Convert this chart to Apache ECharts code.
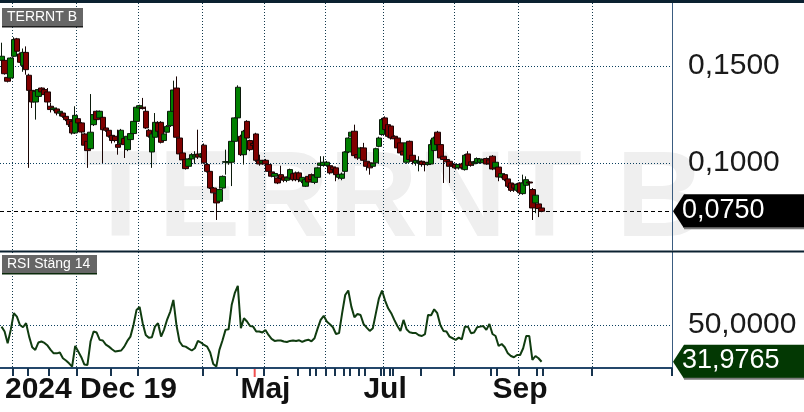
<!DOCTYPE html>
<html><head><meta charset="utf-8">
<script src="https://cdn.jsdelivr.net/npm/echarts@6/dist/echarts.min.js"></script>
<style>html,body{margin:0;padding:0;background:#fff}#c{width:804px;height:412px}</style>
</head><body><div id="c"></div>
<script>
// ---- data ----
const ticker = 'TERRNT B';
const rsiTitle = 'RSI Stäng 14';
const firstLabel = '2024 Dec 19';
const slotCount = 219;              // trading-day slots on the axis (incl. future)
const monthStarts = [4, 25, 45, 66, 86, 106, 125, 148, 169, 193];
const eventTicks = [9, 16, 36, 77, 97, 101, 103, 109, 112, 114, 117, 119, 124, 127, 128, 137, 160, 162, 175, 177];
const redTicks = [83];
const monthLabelSlots = [86, 125, 169];
const monthLabelTexts = ['Maj', 'Jul', 'Sep'];
const priceTicks = [0.10, 0.15];
const rsiTicks = [50];
// [open, close, low, high]
const ohlc = [
[0.1529,0.1550,0.1520,0.1620],[0.1529,0.1460,0.1455,0.1535],[0.1441,0.1421,0.1415,0.1445],[0.1438,0.1541,0.1430,0.1545],
[0.1550,0.1636,0.1545,0.1648],[0.1640,0.1576,0.1570,0.1645],[0.1562,0.1519,0.1515,0.1570],[0.1503,0.1570,0.1470,0.1590],
[0.1570,0.1481,0.1455,0.1601],[0.1452,0.1374,0.0974,0.1460],[0.1374,0.1314,0.1283,0.1380],[0.1314,0.1369,0.1223,0.1378],
[0.1343,0.1378,0.1320,0.1386],[0.1386,0.1366,0.1350,0.1390],[0.1378,0.1352,0.1345,0.1385],[0.1366,0.1314,0.1287,0.1386],
[0.1292,0.1275,0.1260,0.1310],[0.1275,0.1283,0.1266,0.1290],[0.1278,0.1257,0.1245,0.1285],[0.1257,0.1266,0.1240,0.1270],
[0.1257,0.1240,0.1232,0.1262],[0.1240,0.1223,0.1215,0.1245],[0.1223,0.1197,0.1185,0.1230],[0.1214,0.1154,0.1146,0.1225],
[0.1154,0.1245,0.1149,0.1292],
[0.1228,0.1206,0.1200,0.1235],[0.1206,0.1159,0.1150,0.1210],[0.1149,0.1091,0.1085,0.1155],[0.1111,0.1063,0.0974,0.1115],
[0.1073,0.1158,0.1070,0.1355],[0.1197,0.1249,0.1190,0.1255],[0.1266,0.1223,0.1215,0.1270],[0.1232,0.1266,0.1228,0.1270],
[0.1235,0.1171,0.0999,0.1240],[0.1180,0.1168,0.1160,0.1185],[0.1168,0.1137,0.1130,0.1172],[0.1142,0.1115,0.1100,0.1150],
[0.1137,0.1115,0.1105,0.1142],[0.1094,0.1080,0.1042,0.1171],[0.1099,0.1168,0.1094,0.1175],[0.1125,0.1094,0.1025,0.1130],
[0.1068,0.1137,0.1060,0.1145],[0.1120,0.1151,0.1115,0.1155],[0.1151,0.1214,0.1145,0.1220],[0.1214,0.1287,0.1210,0.1290],
[0.1283,0.1295,0.1278,0.1300],[0.1287,0.1280,0.1275,0.1335],[0.1266,0.1180,0.1175,0.1290],[0.1168,0.1137,0.1130,0.1175],
[0.1056,0.1149,0.0974,0.1155],[0.1132,0.1209,0.1125,0.1257],[0.1206,0.1163,0.1155,0.1215],[0.1209,0.1106,0.1100,0.1215],
[0.1115,0.1149,0.1108,0.1155],[0.1158,0.1188,0.1150,0.1195],[0.1192,0.1266,0.1185,0.1270],[0.1266,0.1376,0.1260,0.1424],
[0.1386,0.1132,0.1125,0.1446],[0.1128,0.1046,0.1040,0.1135],[0.1051,0.1015,0.0990,0.1055],[0.1018,0.0970,0.0965,0.1022],
[0.0982,0.1020,0.0975,0.1025],[0.1020,0.1042,0.1015,0.1050],[0.1030,0.1040,0.0995,0.1060],[0.1045,0.1030,0.1020,0.1171],
[0.1035,0.1045,0.1025,0.1050],
[0.1091,0.1000,0.0995,0.1100],[0.0991,0.0956,0.0950,0.1005],[0.0956,0.0870,0.0865,0.0960],[0.0870,0.0845,0.0840,0.0875],
[0.0841,0.0793,0.0705,0.0850],[0.0802,0.0862,0.0795,0.0868],[0.0870,0.0930,0.0865,0.0935],[0.1003,0.1006,0.0939,0.1068],
[0.1000,0.1006,0.0990,0.1015],[0.1003,0.1111,0.0880,0.1115],[0.1111,0.1232,0.1105,0.1235],[0.1232,0.1390,0.1225,0.1400],
[0.1137,0.1042,0.1035,0.1145],[0.1042,0.1163,0.0991,0.1170],[0.1214,0.1128,0.1120,0.1220],[0.1115,0.1068,0.1060,0.1120],
[0.1100,0.1090,0.1080,0.1110],[0.1149,0.1013,0.1005,0.1155],[0.1013,0.0994,0.0985,0.1042],[0.0999,0.1010,0.0990,0.1015],
[0.1013,0.0994,0.0985,0.1020],[0.0991,0.0956,0.0950,0.0995],[0.0953,0.0931,0.0925,0.0960],[0.0931,0.0945,0.0920,0.0950],
[0.0922,0.0896,0.0890,0.0930],[0.0939,0.0919,0.0905,0.0985],[0.0927,0.0910,0.0900,0.0935],[0.0910,0.0922,0.0900,0.0930],
[0.0922,0.0965,0.0915,0.0970],[0.0944,0.0913,0.0905,0.0950],[0.0948,0.0913,0.0905,0.0955],[0.0948,0.0914,0.0900,0.0955],
[0.0905,0.0925,0.0895,0.0930],[0.0879,0.0913,0.0875,0.0918],[0.0930,0.0901,0.0895,0.0935],[0.0939,0.0913,0.0905,0.0945],
[0.0899,0.0934,0.0890,0.0940],[0.0925,0.0974,0.0920,0.0980],[0.0987,0.0999,0.0974,0.1034],[0.0987,0.1003,0.0980,0.1034],
[0.0987,0.1003,0.0980,0.1010],[0.0985,0.0948,0.0940,0.0990],[0.0979,0.0965,0.0955,0.0985],[0.0974,0.0939,0.0905,0.0980],
[0.0925,0.0940,0.0915,0.0945],[0.0920,0.0942,0.0910,0.0950],[0.0956,0.1056,0.0939,0.1060],[0.1056,0.1128,0.1050,0.1135],
[0.1137,0.1158,0.1130,0.1165],[0.1163,0.1037,0.1030,0.1197],[0.1042,0.1025,0.1015,0.1048],[0.1025,0.1077,0.1020,0.1082],
[0.1077,0.1013,0.1005,0.1103],[0.1008,0.0982,0.0960,0.1012],[0.1000,0.0974,0.0939,0.1005],[0.0982,0.0996,0.0975,0.1000],
[0.1000,0.1073,0.0995,0.1078],[0.1085,0.1128,0.1080,0.1135],[0.1146,0.1223,0.1140,0.1232],
[0.1232,0.1172,0.1165,0.1240],[0.1197,0.1137,0.1130,0.1205],[0.1190,0.1128,0.1120,0.1195],[0.1137,0.1124,0.1115,0.1142],
[0.1128,0.1077,0.1070,0.1133],[0.1103,0.1051,0.1040,0.1108],[0.1060,0.1040,0.1010,0.1065],[0.1003,0.1103,0.0995,0.1108],
[0.1111,0.1017,0.1010,0.1115],[0.1039,0.1008,0.0991,0.1045],[0.0999,0.1013,0.0985,0.1020],[0.1003,0.1008,0.0956,0.1034],
[0.1008,0.0991,0.0980,0.1012],[0.1003,0.0991,0.0956,0.1008],[0.0991,0.1000,0.0985,0.1005],[0.0994,0.1094,0.0990,0.1120],
[0.1063,0.1128,0.1055,0.1135],[0.1158,0.1094,0.1090,0.1165],[0.1094,0.1025,0.1020,0.1100],[0.1034,0.1017,0.0896,0.1077],
[0.1017,0.1005,0.0995,0.1022],[0.1008,0.0982,0.0896,0.1012],[0.0994,0.0985,0.0975,0.1000],
[0.0991,0.0974,0.0965,0.0995],[0.0974,0.0991,0.0965,0.0995],[0.0994,0.0974,0.0965,0.1000],[0.0965,0.1039,0.0960,0.1045],
[0.1046,0.0987,0.0980,0.1060],[0.1005,0.0987,0.0980,0.1010],[0.0995,0.1003,0.0985,0.1010],[0.1000,0.1022,0.0995,0.1028],
[0.1003,0.1020,0.0995,0.1025],[0.1000,0.1015,0.0995,0.1020],[0.1022,0.0994,0.0990,0.1028],[0.1015,0.0995,0.0990,0.1020],
[0.1034,0.0968,0.0962,0.1040],[0.0974,0.1003,0.0968,0.1008],[0.0978,0.0927,0.0905,0.0982],[0.0927,0.0944,0.0920,0.0948],
[0.0939,0.0913,0.0905,0.0945],[0.0917,0.0879,0.0870,0.0922],[0.0896,0.0858,0.0850,0.0900],[0.0890,0.0870,0.0850,0.0895],
[0.0858,0.0888,0.0850,0.0895],
[0.0896,0.0845,0.0835,0.0900],[0.0841,0.0896,0.0835,0.0939],[0.0884,0.0913,0.0880,0.0930],[0.0901,0.0896,0.0850,0.0905],
[0.0862,0.0767,0.0705,0.0870],[0.0793,0.0833,0.0740,0.0840],[0.0788,0.0764,0.0720,0.0795],[0.0767,0.0750,0.0745,0.0770]
];
const rsi = [
49.2,46.8,41.1,47.6,55.8,54.1,50.0,48.9,50.9,44.3,
39.1,37.8,41.4,41.9,41.2,39.9,37.8,36.1,36.1,36.5,
33.7,32.6,31.2,29.6,39.7,37.0,34.2,30.6,30.4,41.9,
46.8,46.3,42.7,42.4,40.4,39.4,38.1,37.0,37.3,37.5,
39.4,42.2,44.3,50.0,57.4,58.9,50.9,45.1,43.7,44.0,
49.2,50.9,44.3,47.9,52.8,56.6,62.3,50.0,41.9,39.7,
39.4,38.4,37.5,38.6,42.2,41.4,40.2,39.4,36.5,30.9,
29.6,37.8,42.4,47.6,47.9,59.8,65.6,69.2,48.4,53.3,
51.7,49.5,49.2,46.8,46.8,46.3,47.6,45.1,43.2,42.2,
42.4,42.4,41.9,41.7,42.2,42.4,42.2,42.5,41.7,42.4,
42.8,42.0,43.5,48.2,52.5,54.5,51.7,50.4,48.9,45.6,
46.0,55.8,64.7,66.9,59.0,53.8,55.4,54.9,50.4,48.7,
47.1,48.4,55.8,63.1,66.9,62.0,58.2,55.8,52.5,49.5,
47.1,52.5,47.9,46.4,46.1,46.1,45.0,44.6,45.5,54.9,
54.8,57.7,55.8,50.0,47.1,46.8,44.3,43.5,42.7,43.8,
43.0,49.2,49.2,46.0,46.3,48.9,49.2,49.5,47.6,50.5,
45.6,44.6,39.7,40.7,39.1,36.1,34.8,34.2,35.3,35.3,
38.6,44.6,44.6,32.9,34.8,33.7,31.9765
];

// ---- chart ----
const FONT = '"Liberation Sans", Arial, sans-serif';
const categories = Array.from({length: slotCount}, (_, i) => String(i));
const monthSet = new Set(monthStarts);
const tickSet = new Set(monthStarts.concat(eventTicks));
const labelMap = {};
monthLabelSlots.forEach((s, k) => { labelMap[s] = monthLabelTexts[k]; });
const fmt = (v, d) => v.toFixed(d).replace('.', ',');
const lastClose = ohlc[ohlc.length - 1][1];
const lastRsi = rsi[rsi.length - 1];

const chart = echarts.init(document.getElementById('c'), null, {renderer: 'canvas'});
const dotted = {color: '#12394d', width: 1, type: [1, 2]};

const option = {
  animation: false,
  backgroundColor: '#ffffff',
  grid: [
    {left: 0, top: 3, width: 672, height: 247, outerBoundsMode: 'none'},
    {left: 0, top: 252, width: 672, height: 116, outerBoundsMode: 'none'}
  ],
  xAxis: [
    {type: 'category', gridIndex: 0, data: categories, boundaryGap: true,
     axisLine: {show: false}, axisTick: {show: false}, axisLabel: {show: false},
     splitLine: {show: true, interval: (i) => monthSet.has(i), lineStyle: dotted}},
    {type: 'category', gridIndex: 1, data: categories, boundaryGap: true, position: 'bottom',
     axisLine: {show: true, lineStyle: {color: '#24476b', width: 2}},
     axisTick: {show: true, interval: (i) => tickSet.has(i), length: 8, lineStyle: {color: '#17344f', width: 2}},
     axisLabel: {show: true, interval: (i) => labelMap[i] !== undefined, formatter: (v, i) => labelMap[i] || '',
       margin: 7, fontSize: 30, fontWeight: 'bold', color: '#111', fontFamily: FONT},
     splitLine: {show: true, interval: (i) => monthSet.has(i), lineStyle: dotted}}
  ],
  yAxis: [
    {type: 'value', gridIndex: 0, min: 0.055, max: 0.1825, position: 'right', scale: true,
     axisLine: {show: true, lineStyle: {color: '#3a5c80', width: 1}}, axisTick: {show: false},
     axisLabel: {show: false}, splitLine: {show: false}},
    {type: 'value', gridIndex: 1, min: 28.92, max: 85.78, position: 'right', scale: true,
     axisLine: {show: true, lineStyle: {color: '#3a5c80', width: 1}}, axisTick: {show: false},
     axisLabel: {show: false}, splitLine: {show: false}}
  ],
  series: [
    {type: 'candlestick', xAxisIndex: 0, yAxisIndex: 0, data: ohlc, barWidth: 6, clip: false,
     itemStyle: {color: '#008000', color0: '#800000', borderColor: '#0b1a0b', borderColor0: '#1a0404', borderWidth: 1},
     markLine: {silent: true, symbol: 'none', z: 1, animation: false, precision: 6,
       data: priceTicks.map(v => ({yAxis: v, lineStyle: {color: '#0b3f5f', width: 1, type: [1, 2]},
               label: {show: true, position: 'end', distance: 16, formatter: fmt(v, 4), fontSize: 30, color: '#1a1a1a', fontFamily: FONT}}))
         .concat([{yAxis: lastClose, lineStyle: {color: '#000', width: 1, type: [4, 3]}, label: {show: false}}])}},
    {type: 'line', xAxisIndex: 1, yAxisIndex: 1, data: rsi, symbol: 'none', clip: false,
     lineStyle: {color: '#103c10', width: 2},
     markLine: {silent: true, symbol: 'none', z: 1, animation: false, precision: 6,
       data: rsiTicks.map(v => ({yAxis: v, lineStyle: {color: '#0b3f5f', width: 1, type: [1, 2]},
               label: {show: true, position: 'end', distance: 16, formatter: fmt(v, 4), fontSize: 30, color: '#1a1a1a', fontFamily: FONT}}))}}
  ]
};
chart.setOption(option);

const yP = chart.convertToPixel({yAxisIndex: 0}, lastClose);
const yR = chart.convertToPixel({yAxisIndex: 1}, lastRsi);
const axisY = chart.convertToPixel({yAxisIndex: 1}, 28.92);
function tag(y, fill, text) {
  return [
    {type: 'polygon', z: 20, shape: {points: [[673, y], [684, y - 17], [804, y - 17], [804, y + 17], [684, y + 17]]}, style: {fill: fill}},
    {type: 'line', z: 21, shape: {x1: 684, y1: y + 17, x2: 804, y2: y + 17}, style: {stroke: '#7a7a7a', lineWidth: 2}},
    {type: 'text', z: 22, x: 682, y: y - 1, style: {text: text, fill: '#fff', font: '27px ' + FONT, verticalAlign: 'middle', align: 'left'}}
  ];
}
// red event tick: at the left boundary of its category band
const redMarks = redTicks.map(s => {
  const c0 = chart.convertToPixel({xAxisIndex: 1}, s);
  const c1 = chart.convertToPixel({xAxisIndex: 1}, s + 1);
  const x = c0 - (c1 - c0) / 2;
  return {type: 'line', z: 25, shape: {x1: x, y1: axisY + 1, x2: x, y2: axisY + 9}, style: {stroke: '#f05050', lineWidth: 2}};
});
chart.setOption({graphic: [
  {type: 'text', z: -10, x: 83, y: 202, silent: true,
   style: {text: ticker, fill: '#efefef', font: 'bold 123px ' + FONT, verticalAlign: 'middle', align: 'left'}},
  {type: 'rect', z: 30, shape: {x: 0, y: 0, width: 804, height: 3}, style: {fill: '#0b2130'}},
  {type: 'rect', z: 30, shape: {x: 0, y: 250.5, width: 804, height: 2}, style: {fill: '#0b2130'}},
  {type: 'rect', z: 30, shape: {x: 2, y: 8, width: 81, height: 18}, style: {fill: '#666666'}},
  {type: 'rect', z: 30, shape: {x: 2, y: 26, width: 81, height: 1.5}, style: {fill: '#1e1e1e'}},
  {type: 'text', z: 31, x: 7, y: 17.5, style: {text: ticker, fill: '#fff', font: '14px ' + FONT, verticalAlign: 'middle'}},
  {type: 'rect', z: 30, shape: {x: 2, y: 255, width: 95, height: 18}, style: {fill: '#666666'}},
  {type: 'rect', z: 30, shape: {x: 2, y: 273, width: 95, height: 1.5}, style: {fill: '#0a2a0a'}},
  {type: 'text', z: 31, x: 7, y: 264.5, style: {text: rsiTitle, fill: '#fff', font: '14px ' + FONT, verticalAlign: 'middle'}},
  {type: 'text', z: 31, x: 5, y: 389.5, style: {text: firstLabel, fill: '#111', font: 'bold 30px ' + FONT, verticalAlign: 'middle'}}
].concat(redMarks).concat(tag(yP, '#000000', fmt(lastClose, 4))).concat(tag(yR, '#033803', fmt(lastRsi, 4)))});
</script></body></html>
